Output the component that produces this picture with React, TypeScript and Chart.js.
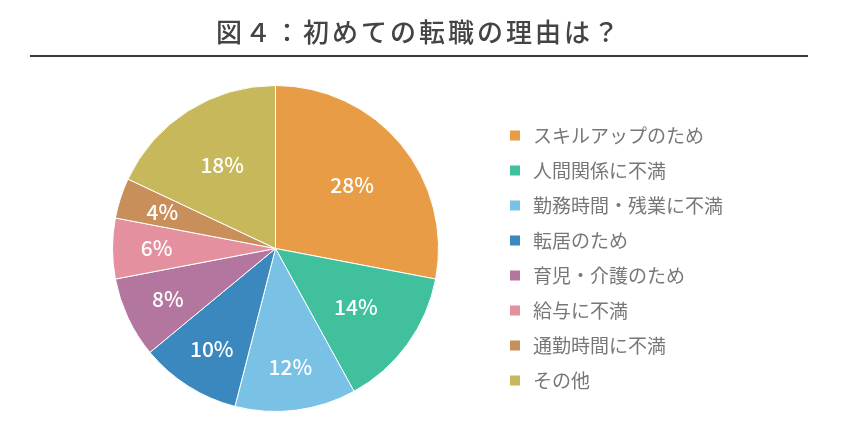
import React, { useEffect, useRef } from "react";
import { Chart, registerables } from "chart.js";

Chart.register(...registerables);

const TITLE = "図４：初めての転職の理由は？";
const categories = [
  "スキルアップのため",
  "人間関係に不満",
  "勤務時間・残業に不満",
  "転居のため",
  "育児・介護のため",
  "給与に不満",
  "通勤時間に不満",
  "その他",
];
const values = [28, 14, 12, 10, 8, 6, 4, 18];
const colors = [
  "#E89C45",
  "#40C09C",
  "#7AC1E6",
  "#3A88BE",
  "#B3769F",
  "#E4909E",
  "#C88F5A",
  "#C8B85C",
];

const FONT = '"Noto Sans CJK JP", "Noto Sans", sans-serif';

const decorPlugin = {
  id: "decor",
  afterDraw(chart: any) {
    const ctx = chart.ctx as CanvasRenderingContext2D;
    ctx.save();
    // title
    ctx.fillStyle = "#444";
    ctx.font = `500 26px ${FONT}`;
    ctx.textAlign = "center";
    ctx.textBaseline = "middle";
    (ctx as any).letterSpacing = "3px";
    ctx.fillText(TITLE, 419, 32);
    (ctx as any).letterSpacing = "0px";
    // rule
    ctx.fillStyle = "#3a3a3a";
    ctx.fillRect(30, 55, 778, 2);
    // legend
    ctx.font = `400 19px ${FONT}`;
    ctx.textAlign = "left";
    categories.forEach((c, i) => {
      const y = 135.5 + i * 35;
      ctx.fillStyle = colors[i];
      ctx.fillRect(510, y - 5, 10, 10);
      ctx.fillStyle = "#777";
      ctx.fillText(c, 533, y);
    });
    // slice labels
    const meta = chart.getDatasetMeta(0);
    const total = values.reduce((a, b) => a + b, 0);
    ctx.font = `500 21px ${FONT}`;
    ctx.textAlign = "center";
    ctx.fillStyle = "#fff";
    meta.data.forEach((arc: any, i: number) => {
      const p = arc.getProps(["x", "y", "startAngle", "endAngle", "outerRadius"], true);
      const mid = (p.startAngle + p.endAngle) / 2;
      const pct = (values[i] / total) * 100;
      const f = pct >= 14 ? 0.61 : 0.73;
      const x = p.x + Math.cos(mid) * p.outerRadius * f;
      const y = p.y + Math.sin(mid) * p.outerRadius * f;
      ctx.fillText(Math.round(pct) + "%", x, y);
    });
    ctx.restore();
  },
};

export default function App() {
  const ref = useRef<HTMLCanvasElement>(null);
  useEffect(() => {
    document.body.style.margin = "0";
    const chart = new Chart(ref.current!, {
      type: "pie",
      data: {
        labels: categories,
        datasets: [
          {
            data: values,
            backgroundColor: colors,
            borderColor: "#ffffff",
            borderWidth: 1,
          },
        ],
      },
      options: {
        responsive: false,
        animation: false,
        layout: { padding: { left: 112, right: 408, top: 85, bottom: 12 } },
        plugins: {
          legend: { display: false },
          title: { display: false },
          tooltip: { enabled: false },
        },
      },
      plugins: [decorPlugin],
    });
    return () => chart.destroy();
  }, []);
  return (
    <div style={{ position: "absolute", left: 0, top: 0, width: 847, height: 424, background: "#fff" }}>
      <canvas ref={ref} width={847} height={424} style={{ display: "block" }} />
    </div>
  );
}
